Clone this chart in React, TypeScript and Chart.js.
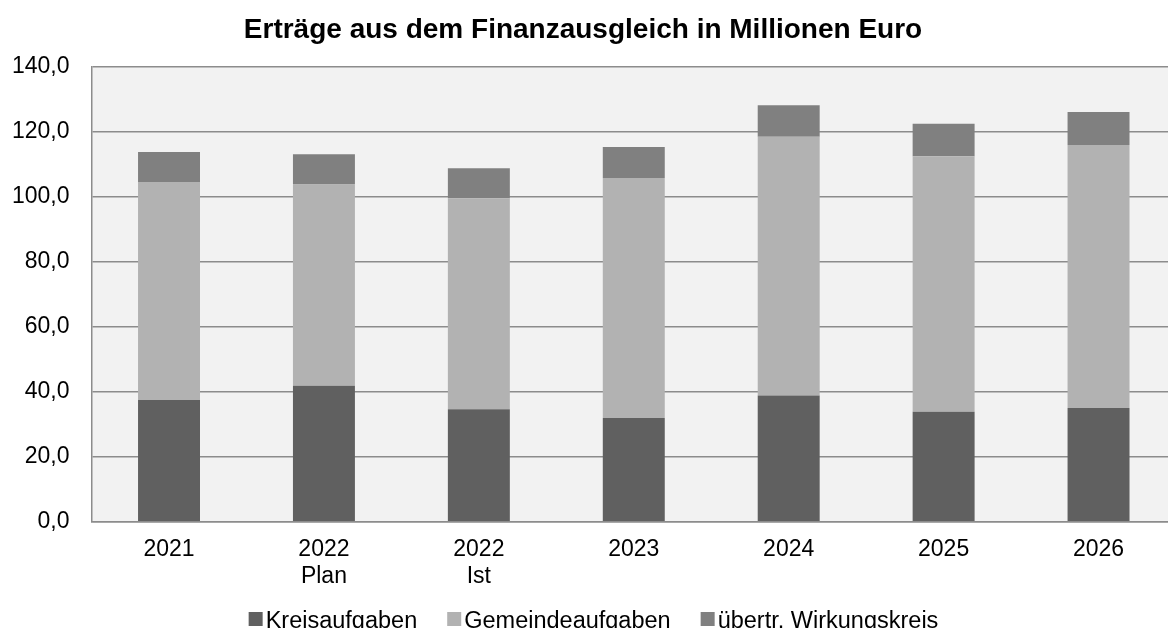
import React, { useEffect, useRef } from "react";
import { Chart, registerables } from "chart.js";

Chart.register(...registerables);

const categories: (string | string[])[] = [
  "2021",
  ["2022", "Plan"],
  ["2022", "Ist"],
  "2023",
  "2024",
  "2025",
  "2026",
];
const kreisaufgaben = [37.4, 41.8, 34.6, 31.9, 38.8, 33.8, 35.0];
const gemeindeaufgaben = [67.1, 61.9, 64.9, 73.8, 79.6, 78.6, 80.9];
const uebertrWirkungskreis = [9.2, 9.3, 9.2, 9.6, 9.7, 10.0, 10.1];
const seriesNames = ["Kreisaufgaben", "Gemeindeaufgaben", "übertr. Wirkungskreis"];
const seriesColors = ["#606060", "#b2b2b2", "#808080"];
const yMin = 0;
const yMax = 140;
const yStep = 20;
const title = "Erträge aus dem Finanzausgleich in Millionen Euro";

const FONT = "'Liberation Sans', Arial, sans-serif";
const SHIFT = 10; // canvas is shifted left by this many px

const plotBg = {
  id: "plotBg",
  beforeDraw(chart: any) {
    const { ctx, chartArea } = chart;
    ctx.save();
    ctx.fillStyle = "#f2f2f2";
    ctx.fillRect(chartArea.left, chartArea.top, chartArea.right - chartArea.left, chartArea.bottom - chartArea.top);
    ctx.restore();
  },
};

const customLegend = {
  id: "customLegend",
  afterDraw(chart: any) {
    const { ctx } = chart;
    const fontSize = 23.5;
    const box = 14;
    const gapBoxText = 3;
    const gapItems = 30;
    ctx.save();
    ctx.font = `${fontSize}px ${FONT}`;
    const items = chart.data.datasets.map((d: any) => ({
      label: d.label,
      color: d.backgroundColor,
      w: box + gapBoxText + ctx.measureText(d.label).width,
    }));
    const total = items.reduce((s: number, it: any) => s + it.w, 0) + gapItems * (items.length - 1);
    let x = 593.5 + SHIFT - total / 2;
    const baseline = 627.5;
    ctx.textBaseline = "alphabetic";
    ctx.textAlign = "left";
    for (const it of items) {
      ctx.fillStyle = it.color;
      ctx.fillRect(x, 612, box, box);
      ctx.fillStyle = "#000";
      ctx.fillText(it.label, x + box + gapBoxText, baseline);
      x += it.w + gapItems;
    }
    ctx.restore();
  },
};

export default function App() {
  const ref = useRef<HTMLCanvasElement>(null);
  useEffect(() => {
    if (!ref.current) return;
    const chart = new Chart(ref.current, {
      type: "bar",
      data: {
        labels: categories as any,
        datasets: [
          { label: seriesNames[0], data: kreisaufgaben, backgroundColor: seriesColors[0] },
          { label: seriesNames[1], data: gemeindeaufgaben, backgroundColor: seriesColors[1] },
          { label: seriesNames[2], data: uebertrWirkungskreis, backgroundColor: seriesColors[2] },
        ],
      },
      options: {
        responsive: false,
        animation: false,
        devicePixelRatio: 1,
        layout: { padding: { left: 0, right: 0, top: 0, bottom: 23 } },
        datasets: { bar: { categoryPercentage: 1, barPercentage: 0.4, borderWidth: 0 } } as any,
        plugins: {
          legend: { display: false },
          tooltip: { enabled: false },
          title: {
            display: true,
            text: title,
            color: "#000",
            font: { family: FONT, size: 28, weight: "bold" },
            padding: { top: 13, bottom: 20 },
          },
        },
        scales: {
          x: {
            stacked: true,
            grid: { display: false, drawTicks: false },
            border: { display: true, color: "#8c8c8c", width: 1.5 },
            ticks: {
              color: "#000",
              font: { family: FONT, size: 23, lineHeight: 1.16 },
              padding: 15,
              maxRotation: 0,
              autoSkip: false,
            },
          },
          y: {
            stacked: true,
            min: yMin,
            max: yMax,
            grid: { color: "#8c8c8c", lineWidth: 1.5, drawTicks: false },
            border: { display: true, color: "#8c8c8c", width: 1.5 },
            ticks: {
              stepSize: yStep,
              color: "#000",
              font: { family: FONT, size: 23 },
              padding: 22,
              callback: (v: any) => Number(v).toFixed(1).replace(".", ","),
            },
          },
        },
      },
      plugins: [plotBg, customLegend],
    });
    return () => chart.destroy();
  }, []);
  return (
    <div style={{ position: "absolute", left: 0, top: 0, width: 1168, height: 628, overflow: "hidden", background: "#fff" }}>
      <canvas ref={ref} width={1186} height={628} style={{ display: "block", marginLeft: -SHIFT }} />
    </div>
  );
}
